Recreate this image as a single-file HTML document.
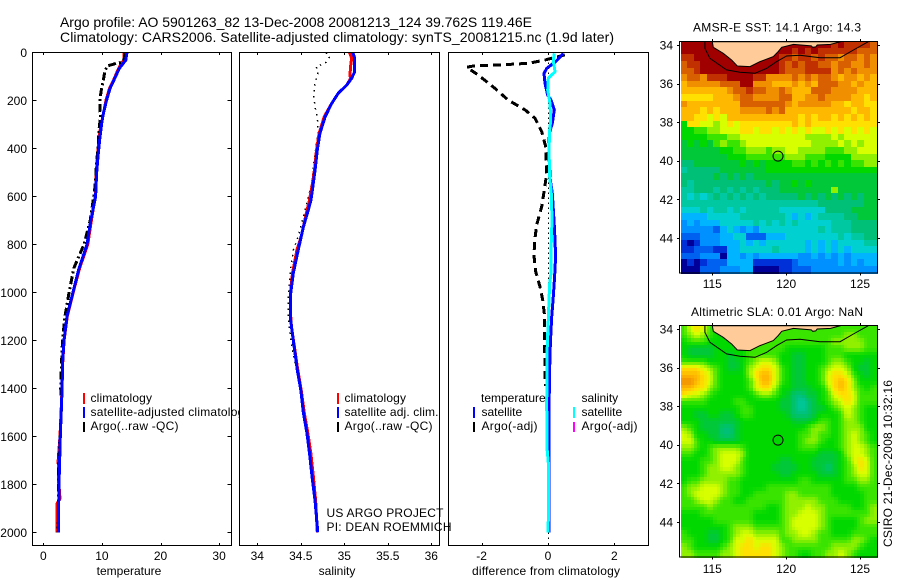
<!DOCTYPE html>
<html lang="en">
<head>
<meta charset="utf-8">
<title>Argo profile 5901263_82</title>
<style>
html,body{margin:0;padding:0;background:#fff;}
svg{display:block;}
text{font-family:"Liberation Sans",Arial,sans-serif;font-size:12px;fill:#000;}
</style>
</head>
<body>
<svg id="fig" xmlns="http://www.w3.org/2000/svg" width="900" height="580" viewBox="0 0 900 580">
<rect x="0" y="0" width="900" height="580" fill="#fff"/>
<text x="60" y="27" style="font-size:14px" textLength="472">Argo profile: AO 5901263_82 13-Dec-2008 20081213_124 39.762S 119.46E</text>
<text x="60" y="42" style="font-size:14px" textLength="554">Climatology: CARS2006. Satellite-adjusted climatology: synTS_20081215.nc (1.9d later)</text>

<g id="panel1">
  <rect x="32.5" y="52.5" width="199" height="493" fill="#fff"/>
  <g id="p1marks"></g>
  <g>
    <rect x="83" y="393" width="2" height="11" fill="#ff0000"/>
    <rect x="83" y="407" width="2" height="11" fill="#0000ff"/>
    <rect x="83" y="422" width="2" height="10" fill="#000"/>
    <text x="90.5" y="402" textLength="61.5">climatology</text>
    <text x="90.5" y="416" textLength="160">satellite-adjusted climatology</text>
    <text x="90.5" y="430" textLength="88">Argo(..raw -QC)</text>
  </g>
  <text x="129" y="575" text-anchor="middle">temperature</text>
</g>

<g id="panel2">
  <rect x="239.5" y="52.5" width="200" height="493" fill="#fff"/>
  <g id="p2marks"></g>
  <g>
    <rect x="337" y="393" width="2" height="11" fill="#ff0000"/>
    <rect x="337" y="407" width="2" height="11" fill="#0000ff"/>
    <rect x="337" y="422" width="2" height="10" fill="#000"/>
    <text x="344.5" y="402" textLength="61.5">climatology</text>
    <text x="344.5" y="416" textLength="94">satellite adj. clim.</text>
    <text x="344.5" y="430" textLength="88">Argo(..raw -QC)</text>
  </g>
  <text x="337" y="575" text-anchor="middle">salinity</text>
</g>

<g id="panel3">
  <rect x="448.5" y="52.5" width="200" height="493" fill="#fff"/>
  <g id="p3marks"></g>
  <g>
    <text x="481" y="402">temperature</text>
    <rect x="473" y="407" width="2" height="11" fill="#0000ff"/>
    <rect x="473" y="422" width="2" height="10" fill="#000"/>
    <text x="481.5" y="416">satellite</text>
    <text x="481.5" y="430" textLength="56">Argo(-adj)</text>
    <text x="581.5" y="402">salinity</text>
    <rect x="573" y="407" width="2" height="11" fill="#00ffff"/>
    <rect x="573" y="422" width="2" height="10" fill="#ff00ff"/>
    <text x="581.5" y="416">satellite</text>
    <text x="581.5" y="430" textLength="56">Argo(-adj)</text>
  </g>
  <text x="546" y="575" text-anchor="middle" textLength="148">difference from climatology</text>
</g>

<text x="326.5" y="517" textLength="117">US ARGO PROJECT</text>
<text x="326.5" y="531" textLength="125">PI: DEAN ROEMMICH</text>

<g id="map1"></g>
<text x="777" y="31.5" text-anchor="middle" textLength="168">AMSR-E SST: 14.1 Argo: 14.3</text>
<g id="map2"></g>
<text x="777" y="316" text-anchor="middle" textLength="172">Altimetric SLA: 0.01 Argo: NaN</text>
<text transform="translate(892,547) rotate(-90)" textLength="167">CSIRO 21-Dec-2008 10:32:16</text>
</svg>

<script>
/* ---------- profile data ---------- */
const tempXTicks = [0, 10, 20, 30];
const salXTicks = [34, 34.5, 35, 35.5, 36];
const diffXTicks = [-2, 0, 2];
const depthTicks = [0, 200, 400, 600, 800, 1000, 1200, 1400, 1600, 1800, 2000];

const tempClimDepth = [0, 30, 50, 70, 110, 150, 200, 250, 300, 350, 420, 500, 600, 700, 800, 900, 1000, 1100, 1200, 1300, 1400, 1600, 1700, 1780, 1860, 1880, 2000];
const tempClim = [13.8, 13.8, 13.2, 12.8, 12.1, 11.3, 10.7, 10.3, 9.9, 9.5, 9.3, 9.05, 8.85, 8.2, 7.6, 6.2, 5.1, 4.1, 3.55, 3.3, 3.2, 2.85, 2.55, 2.6, 2.85, 2.35, 2.35];
const tempSatDepth = [0, 11, 32, 46, 67, 108, 150, 199, 254, 296, 352, 421, 504, 602, 700, 800, 900, 1000, 1100, 1200, 1300, 1400, 1600, 1800, 2000];
const tempSat = [14.3, 14.2, 14.1, 13.65, 12.97, 12.2, 11.4, 10.8, 10.25, 9.96, 9.67, 9.39, 9.1, 8.93, 8.1, 7.45, 6.1, 5.07, 4.05, 3.53, 3.28, 3.2, 2.9, 2.68, 2.56];
const tempArgoDepth = [4, 32, 42, 46, 57, 81, 115, 164, 199, 247, 261, 310, 378, 462, 560, 602, 700, 800, 900, 1000, 1100, 1200, 1300, 1400, 1470, 1740, 1800, 2000];
const tempArgo = [13.94, 13.77, 13.4, 12.5, 10.9, 10.5, 10.25, 9.85, 9.67, 9.67, 9.8, 9.56, 9.39, 9.1, 8.82, 8.6, 8.0, 6.95, 5.2, 4.4, 3.7, 3.28, 3.1, 2.97, 3.14, 2.56, 2.6, 2.55];

const salClimDepth = [0, 25, 50, 90, 110, 136, 171, 213, 268, 338, 407, 483, 546, 615, 685, 768, 824, 920, 1004, 1115, 1150, 1324, 1407, 1503, 1586, 1670, 1770, 1866, 2000];
const salClim = [35.06, 35.085, 35.075, 35.065, 35.07, 35.03, 34.93, 34.855, 34.77, 34.71, 34.68, 34.66, 34.635, 34.6, 34.555, 34.505, 34.455, 34.405, 34.38, 34.385, 34.395, 34.465, 34.505, 34.54, 34.58, 34.615, 34.645, 34.67, 34.69];
const salSatDepth = [2, 25, 81, 108, 136, 171, 213, 268, 338, 407, 483, 546, 615, 657, 727, 824, 920, 1004, 1115, 1150, 1324, 1407, 1503, 1586, 1670, 1770, 1866, 2000];
const salSat = [35.10, 35.12, 35.12, 35.085, 35.03, 34.93, 34.855, 34.78, 34.72, 34.69, 34.667, 34.644, 34.617, 34.586, 34.53, 34.47, 34.414, 34.384, 34.384, 34.395, 34.46, 34.5, 34.53, 34.57, 34.6, 34.63, 34.663, 34.695];
const salArgoDepth = [2, 18, 46, 60, 81, 129, 185, 227, 268, 338, 393, 463, 546, 602, 685, 768, 824, 925, 1018, 1102, 1200, 1400];
const salArgo = [34.79, 34.836, 34.78, 34.675, 34.70, 34.663, 34.65, 34.663, 34.69, 34.70, 34.675, 34.65, 34.625, 34.586, 34.53, 34.47, 34.414, 34.376, 34.356, 34.356, 34.385, 34.49];

const diffArgoDepth = [11, 32, 46, 53, 57, 62, 95, 150, 199, 240, 275, 331, 393, 504, 574, 643, 719, 795, 852, 914, 977, 1032, 1088, 1145, 1253, 1390];
const diffTempArgo = [0.51, -0.09, -0.59, -1.5, -2.25, -2.45, -2.1, -1.6, -1.2, -0.69, -0.39, -0.19, -0.07, -0.04, -0.11, -0.19, -0.34, -0.41, -0.42, -0.37, -0.24, -0.16, -0.11, -0.11, -0.1, -0.08];
const diffSatDepth = [4, 35, 67, 88, 129, 178, 199, 240, 296, 338, 435, 532, 588, 699, 782, 852, 935, 1018, 1102, 1185, 1253, 1393, 1601, 1782, 2000];
const diffTempSat = [0.46, 0.26, -0.04, -0.12, -0.09, -0.01, 0.09, 0.19, 0.13, 0.04, 0.03, 0.07, 0.13, 0.18, 0.21, 0.23, 0.2, 0.16, 0.11, 0.08, 0.06, 0.04, 0.03, 0.03, 0.03];
const diffSalDepth = [4, 35, 81, 108, 157, 213, 282, 324, 407, 518, 588, 699, 824, 920, 963, 1032, 1115, 1212, 1460, 1648, 1710, 1877, 2000];
const diffSalSat = [0.19, 0.16, 0.21, 0.01, -0.01, 0.06, 0.08, 0.05, 0.03, 0.05, 0.1, 0.12, 0.09, 0.09, 0.05, 0.03, 0.01, -0.02, -0.04, -0.03, 0.01, 0.02, 0.0];

/* ---------- map data ---------- */
const lonTicks = [115, 120, 125];
const latTicks = [34, 36, 38, 40, 42, 44];
const coastLon = [115, 115.07, 115.74, 116.31, 116.69, 117.55, 118.23, 119.13, 119.47, 119.7, 120.5, 121.7, 121.8, 122, 122.1, 123, 123.7];
const coastLat = [33.83, 34.12, 34.43, 34.78, 35.09, 35.12, 34.86, 34.6, 34.34, 34.12, 33.97, 34.05, 34.12, 34.1, 34.0, 33.97, 33.83];
const shelfLon = [114.5, 114.5, 114.84, 115.97, 116.87, 117.89, 118.68, 119.36, 120.03, 120.94, 122.29, 123.65, 124.55, 125.56];
const shelfLat = [33.83, 34.17, 34.69, 35.29, 35.41, 35.47, 35.21, 34.86, 34.57, 34.53, 34.66, 34.66, 34.26, 33.83];
const floatLon = 119.45;
const floatLat = 39.76;

const sstLevels = [
[18,18,18,18,18,18,18,18,18,18,18,18,18,18,18,18,18,18,18,18,18,18,18,17,18,17,17,17,17,16],
[18,18,18,18,18,18,18,18,18,18,18,18,18,18,18,18,18,17,18,17,18,17,17,17,17,17,17,16,16,16],
[17,17,18,18,18,18,18,18,18,18,18,18,18,18,18,17,17,16,17,17,16,17,16,16,15,16,16,15,16,15],
[16,17,17,18,18,18,18,18,18,18,18,18,18,18,18,17,16,17,16,17,17,16,16,15,16,16,15,15,16,15],
[16,16,17,18,18,18,18,18,18,18,18,18,18,18,18,17,16,16,16,17,17,17,17,15,16,15,16,15,15,15],
[15,16,16,15,17,17,17,18,18,18,18,17,17,15,15,15,15,16,15,16,15,16,16,15,14,15,15,14,15,14],
[14,15,15,15,15,15,16,16,16,18,18,15,15,15,14,14,14,15,14,15,14,16,16,16,15,15,14,15,14,14],
[14,14,14,14,14,14,14,15,16,16,17,16,16,15,15,16,15,14,14,14,16,16,16,15,15,15,15,14,14,14],
[13,13,13,13,13,14,14,14,15,16,16,15,15,15,15,16,16,14,14,15,15,16,15,15,15,15,14,14,13,14],
[15,14,14,14,14,14,14,14,14,16,16,16,16,16,16,16,15,14,15,15,15,15,15,14,14,13,14,14,13,13],
[14,14,14,13,14,13,14,14,14,15,15,15,15,16,15,16,14,14,14,14,14,14,14,14,14,14,13,14,14,13],
[14,14,13,13,12,13,12,14,14,14,14,14,14,14,14,14,14,14,13,14,13,14,14,13,14,13,14,13,14,13],
[9,13,13,12,12,11,12,13,12,13,13,13,13,13,13,13,13,14,13,14,13,13,13,13,13,13,13,13,13,13],
[9,9,10,10,11,11,12,12,12,13,13,12,13,13,12,13,12,13,12,13,12,12,13,12,13,12,13,12,13,12],
[9,9,9,9,10,10,10,11,11,12,12,12,12,12,12,12,12,12,12,11,11,11,11,12,11,12,12,12,12,12],
[8,9,8,9,8,10,11,10,10,11,12,12,12,12,12,12,12,12,12,12,11,11,11,11,12,11,12,11,12,12],
[8,8,8,8,8,8,9,9,10,10,11,11,11,10,11,11,12,12,11,11,11,11,10,10,10,11,11,12,12,12],
[8,8,8,8,8,8,8,9,9,9,10,10,10,10,10,10,11,11,11,10,10,10,9,9,9,9,11,11,11,11],
[7,7,8,8,8,8,8,8,8,9,8,9,8,9,9,9,9,10,10,9,10,9,10,9,10,9,10,10,11,11],
[6,7,7,7,7,7,8,8,8,8,8,8,8,9,9,9,9,9,9,9,9,9,9,9,9,9,9,9,9,9],
[7,7,7,7,7,8,7,8,7,8,7,8,8,8,8,8,8,8,8,8,8,8,8,8,8,8,8,8,8,8],
[7,6,7,7,7,7,7,7,7,7,7,7,7,8,7,8,8,9,8,9,8,8,8,8,8,8,8,8,8,8],
[6,6,7,7,7,6,7,6,7,6,7,6,7,7,7,8,8,8,8,8,8,8,8,11,8,8,8,8,8,8],
[6,5,6,5,6,7,6,7,6,7,6,7,6,7,7,7,7,7,8,7,8,7,8,7,8,7,8,7,8,8],
[6,6,6,6,6,6,6,6,6,6,6,6,6,6,6,6,6,6,6,6,6,7,7,7,7,7,7,7,8,8],
[5,5,5,6,5,6,6,5,6,5,6,6,6,6,6,5,5,5,5,5,5,5,7,7,7,7,8,8,8,8],
[4,4,4,4,5,5,5,5,5,6,6,6,6,6,6,6,5,4,5,4,5,6,6,6,6,7,7,8,8,8],
[3,4,3,4,4,4,5,5,5,5,5,6,5,6,5,6,5,6,5,5,5,5,5,6,6,6,7,7,7,7],
[3,3,3,3,3,2,4,5,4,3,4,3,5,5,5,5,5,5,5,5,5,6,5,6,6,6,7,7,7,7],
[2,2,2,3,3,3,4,4,5,5,2,2,2,4,4,4,5,5,5,5,5,5,5,5,6,5,6,6,7,7],
[1,0,1,3,3,3,4,4,4,5,4,5,4,5,5,5,5,5,5,4,5,4,5,4,5,5,5,5,6,6],
[1,1,2,2,2,1,1,4,4,5,5,5,5,5,6,5,5,5,5,4,5,4,5,4,5,4,5,5,5,5],
[2,2,2,3,3,3,0,4,4,3,4,3,4,4,4,4,4,4,3,3,4,3,4,3,4,3,4,4,4,4],
[0,1,0,1,2,2,2,4,4,4,4,1,1,1,1,1,1,2,3,3,3,3,3,3,4,3,4,3,4,4],
[0,0,0,2,2,2,3,3,3,4,4,0,0,0,0,1,1,2,2,2,3,3,3,3,3,3,3,3,3,3]
];

const slaLevels = [
[10,12,13,12,10,9,9,10,10,10,10,10,10,10,10,10,10,10,10,10,10,10,10,10,10,10,10,10,10,10],
[10,11,12,11,10,9,9,10,10,10,10,10,10,10,10,10,10,10,10,10,10,10,10,10,10,11,11,10,10,10],
[9,10,10,10,9,9,9,9,10,10,10,10,10,10,10,10,10,10,10,10,10,10,10,11,11,11,11,11,10,10],
[9,8,8,8,8,9,9,9,9,9,10,10,10,10,10,10,9,9,9,9,9,9,10,10,10,11,11,11,10,10],
[9,8,8,8,8,9,9,8,9,9,10,10,10,10,10,9,9,8,8,9,9,9,10,10,10,9,9,9,9,9],
[10,10,10,10,9,9,9,8,8,9,10,11,12,12,11,9,9,8,8,9,9,9,10,11,11,10,9,9,8,9],
[13,13,13,12,11,10,9,8,8,9,11,12,13,13,12,10,9,8,8,9,9,10,11,12,12,11,9,8,8,9],
[14,14,14,13,12,10,9,9,9,9,11,13,14,14,12,10,9,8,8,9,9,10,12,13,13,12,10,9,8,9],
[15,15,14,13,12,10,9,9,9,9,10,12,14,14,12,10,9,8,8,9,9,10,12,13,14,13,11,9,9,9],
[14,14,13,13,11,10,9,9,9,9,10,12,13,13,11,9,9,8,8,8,9,9,11,13,14,13,11,10,9,10],
[13,12,12,11,10,9,9,9,9,9,9,10,11,11,10,9,8,7,7,8,8,9,10,12,13,13,12,10,10,10],
[10,10,10,10,9,9,9,9,10,10,9,9,9,9,9,8,8,7,6,7,8,9,10,11,12,13,12,10,10,10],
[9,9,9,9,9,9,9,9,9,10,10,9,9,9,9,8,8,7,6,7,8,8,9,10,11,12,11,10,9,9],
[9,9,8,8,9,9,8,8,9,10,10,9,9,9,9,9,8,7,7,7,8,9,9,9,10,12,11,10,9,9],
[9,9,9,8,8,8,8,8,8,9,9,9,9,9,9,9,9,8,8,8,9,10,10,9,10,11,11,10,9,9],
[11,10,9,8,8,8,7,7,8,9,9,9,9,9,9,9,9,9,9,10,11,11,10,9,10,11,11,11,9,9],
[12,11,9,9,8,8,7,7,8,9,9,9,9,9,9,9,9,9,10,10,11,10,10,9,10,11,12,11,10,9],
[12,12,10,9,9,8,8,8,8,9,9,9,9,9,9,9,9,9,10,11,11,10,9,9,10,11,12,11,10,9],
[11,11,10,9,10,11,11,11,11,10,9,9,9,9,9,9,9,9,10,10,10,9,9,9,10,11,12,12,11,10],
[10,10,9,9,10,11,12,12,12,11,9,9,9,9,9,9,9,9,9,9,9,8,8,8,9,11,12,12,11,10],
[9,9,9,10,10,11,12,12,12,10,9,9,9,9,9,8,8,9,9,9,8,8,8,8,9,10,12,13,12,10],
[9,9,9,10,11,11,12,12,11,10,9,9,9,9,8,8,8,8,9,9,8,8,7,8,9,10,11,13,12,10],
[9,9,9,10,11,11,11,11,11,10,9,9,9,9,9,8,8,9,9,9,9,8,8,8,9,10,11,12,12,10],
[9,10,10,11,11,11,11,10,10,9,9,9,9,9,9,9,9,9,10,10,9,9,9,9,9,10,10,11,11,10],
[10,11,11,12,12,12,11,10,10,9,9,9,9,10,10,10,10,10,10,10,10,10,10,9,9,9,9,10,10,10],
[10,11,12,12,12,12,11,10,10,9,9,10,10,10,10,10,11,11,10,10,10,10,10,9,9,9,9,9,10,10],
[10,10,11,12,12,11,10,10,9,9,10,10,10,10,10,10,11,11,11,11,11,10,10,10,9,9,9,9,10,10],
[10,10,10,10,11,10,10,10,10,10,10,10,10,9,9,10,11,11,11,12,11,11,10,10,10,10,9,9,10,11],
[9,9,9,10,10,10,10,10,10,10,10,9,9,9,9,10,11,11,12,12,12,11,10,10,10,10,10,10,10,11],
[9,9,9,9,9,10,10,10,10,10,10,9,9,9,9,10,11,12,12,12,12,11,10,9,9,9,9,10,11,11],
[9,9,9,9,9,9,9,10,11,11,11,10,10,10,10,10,11,12,12,12,12,11,10,9,9,9,9,10,10,10],
[10,9,9,9,8,8,9,10,11,12,12,11,11,11,11,10,11,11,12,12,11,10,10,9,9,9,10,10,10,10],
[10,10,9,9,8,8,9,10,12,12,13,12,12,12,12,10,10,11,11,11,11,10,10,10,10,10,11,11,10,9],
[11,10,9,9,9,9,10,11,12,13,13,12,13,13,12,11,10,10,10,10,10,10,10,11,11,11,11,10,9,9],
[11,11,10,10,10,10,11,11,12,13,13,13,13,13,12,11,10,10,9,9,10,10,11,11,12,11,10,9,9,9]
];

/* ---------- styling and drawing ---------- */
const colormap = ['#000098','#0030d8','#0060f0','#0090ff','#00b4ff','#00d0d0','#00c8a0','#00c078','#00c838','#00d800','#38e400','#90f000','#d8ff00','#ffe000','#ffb800','#f09000','#d86000','#c03000','#a00000'];
const NS = 'http://www.w3.org/2000/svg';

function el(parent, tag, attrs, txt) {
  const e = document.createElementNS(NS, tag);
  for (const k in attrs) e.setAttribute(k, attrs[k]);
  if (txt !== undefined) e.textContent = txt;
  parent.appendChild(e);
  return e;
}

function colorOf(v) {
  const c = Math.max(0, Math.min(colormap.length - 1, v));
  const lo = Math.floor(c), hi = Math.ceil(c), f = c - lo;
  const a = parseInt(colormap[lo].slice(1), 16), b = parseInt(colormap[hi].slice(1), 16);
  const mix = s => Math.round(((a >> s) & 255) * (1 - f) + ((b >> s) & 255) * f);
  return 'rgb(' + mix(16) + ',' + mix(8) + ',' + mix(0) + ')';
}

const depthY = d => 52.3 + d * 0.24;
const tempX = v => 43.3 + v * 5.86;
const salX = v => 257.3 + (v - 34) * 87;
const diffX = v => 548 + v * 33.2;

function seriesPath(parent, name, depths, values, xf, color, width, dash) {
  const pts = depths.map((d, i) => xf(values[i]).toFixed(1) + ',' + depthY(d).toFixed(1)).join(' ');
  const line = el(parent, 'polyline', {points: pts, fill: 'none', stroke: color, 'stroke-width': width, 'shape-rendering': 'crispEdges', 'stroke-linejoin': 'round'});
  
  
  if (dash) line.setAttribute('stroke-dasharray', dash);
}

function profileFrame(parent, frame, ticks, xf, labelY, panelName) {
  const box = el(parent, 'rect', {x: frame.x, y: frame.y, width: frame.w, height: frame.h, fill: 'none', stroke: '#000', 'stroke-width': 1, 'shape-rendering': 'crispEdges'});
  
  
  ticks.forEach(t => {
    const x = Math.round(xf(t)) + 0.5;
    const top = el(parent, 'line', {x1: x, x2: x, y1: frame.y, y2: frame.y + 2.5, stroke: '#000', 'shape-rendering': 'crispEdges'});
    
    
    const bot = el(parent, 'line', {x1: x, x2: x, y1: frame.y + frame.h, y2: frame.y + frame.h - 2.5, stroke: '#000', 'shape-rendering': 'crispEdges'});
    
    
    const lab = el(parent, 'text', {x: xf(t), y: labelY, 'text-anchor': 'middle'}, String(t));
    
    
  });
}

/* temperature panel */
const p1 = document.getElementById('p1marks');
seriesPath(p1, 'temperature-climatology-line', tempClimDepth, tempClim, tempX, '#ff0000', 3);
seriesPath(p1, 'temperature-argo-line', tempArgoDepth, tempArgo, tempX, '#000', 3, '8 3 2 3');
seriesPath(p1, 'temperature-satellite-line', tempSatDepth, tempSat, tempX, '#0000ff', 3);
profileFrame(p1, {x: 32.5, y: 52.5, w: 199, h: 493}, tempXTicks, tempX, 560, 'temperature');
depthTicks.forEach(d => {
  const y = Math.round(depthY(d)) + 0.5;
  const l = el(p1, 'line', {x1: 32.5, x2: 36.5, y1: y, y2: y, stroke: '#000', 'shape-rendering': 'crispEdges'});
  
  
  const r = el(p1, 'line', {x1: 231.5, x2: 227.5, y1: y, y2: y, stroke: '#000', 'shape-rendering': 'crispEdges'});
  
  
  const t = el(p1, 'text', {x: 27, y: depthY(d) + 4.5, 'text-anchor': 'end'}, String(d));
  
  
});

/* salinity panel */
const p2 = document.getElementById('p2marks');
seriesPath(p2, 'salinity-argo-line', salArgoDepth, salArgo, salX, '#000', 1.5, '1.5 4.5');
seriesPath(p2, 'salinity-climatology-line', salClimDepth, salClim, salX, '#ff0000', 3);
seriesPath(p2, 'salinity-satellite-line', salSatDepth, salSat, salX, '#0000ff', 3);
profileFrame(p2, {x: 239.5, y: 52.5, w: 200, h: 493}, salXTicks, salX, 560, 'salinity');

/* difference panel */
const p3 = document.getElementById('p3marks');
const zeroLine = el(p3, 'line', {x1: diffX(0) + 0.5, x2: diffX(0) + 0.5, y1: depthY(0), y2: depthY(2030), stroke: '#000', 'stroke-width': 1.2, 'stroke-dasharray': '1.5 3.5', 'shape-rendering': 'crispEdges'});


seriesPath(p3, 'difference-temperature-argo-line', diffArgoDepth, diffTempArgo, diffX, '#000', 3, '8 5');
seriesPath(p3, 'difference-temperature-satellite-line', diffSatDepth, diffTempSat, diffX, '#0000ff', 3);
seriesPath(p3, 'difference-salinity-satellite-line', diffSalDepth, diffSalSat, diffX, '#00ffff', 3);
profileFrame(p3, {x: 448.5, y: 52.5, w: 200, h: 493}, diffXTicks, diffX, 560, 'difference');

/* maps: sub > 1 blends neighbouring grid values when painting, for fields that are smooth */
function sampleGrid(grid, r, c) {
  const nR = grid.length, nC = grid[0].length;
  const rr = Math.max(0, Math.min(nR - 1, r)), cc = Math.max(0, Math.min(nC - 1, c));
  const r0 = Math.floor(rr), c0 = Math.floor(cc);
  const r1 = Math.min(nR - 1, r0 + 1), c1 = Math.min(nC - 1, c0 + 1);
  const fr = rr - r0, fc = cc - c0;
  return (grid[r0][c0] * (1 - fc) + grid[r0][c1] * fc) * (1 - fr) + (grid[r1][c0] * (1 - fc) + grid[r1][c1] * fc) * fr;
}

function drawMap(gid, prefix, grid, top, labelY, sub) {
  const g = document.getElementById(gid);
  const left = 679.3, right = 877.3, height = 231.5;
  const lonX = lon => 712.3 + (lon - 115) * 14.77;
  const latY = lat => top + (lat - 33.83) * height / 12;
  const lonStart = 112.9, lonEnd = 126.17, latStart = 33.83, latEnd = 45.83;
  const nRows = grid.length * sub, nCols = grid[0].length * sub;
  const cellW = (lonEnd - lonStart) / nCols, cellH = (latEnd - latStart) / nRows;
  for (let r = 0; r < nRows; r++) {
    for (let c = 0; c < nCols; c++) {
      const v = sub > 1 ? sampleGrid(grid, (r + 0.5) / sub - 0.5, (c + 0.5) / sub - 0.5) : grid[r][c];
      const x0 = Math.floor(lonX(lonStart + c * cellW)), x1 = Math.ceil(lonX(lonStart + (c + 1) * cellW));
      const y0 = Math.floor(latY(latStart + r * cellH)), y1 = Math.ceil(latY(latStart + (r + 1) * cellH));
      const cell = el(g, 'rect', {x: x0, y: y0, width: x1 - x0, height: y1 - y0, fill: colorOf(v), 'shape-rendering': 'crispEdges'});
      
      
    }
  }
  const landPts = coastLon.map((lon, i) => lonX(lon).toFixed(1) + ',' + latY(coastLat[i]).toFixed(1)).join(' ');
  const land = el(g, 'polygon', {points: landPts, fill: '#ffcc99', stroke: '#000', 'stroke-width': 1});
  
  
  const shelfPts = shelfLon.map((lon, i) => lonX(lon).toFixed(1) + ',' + latY(shelfLat[i]).toFixed(1)).join(' ');
  const shelf = el(g, 'polyline', {points: shelfPts, fill: 'none', stroke: '#000', 'stroke-width': 1});
  
  
  const mark = el(g, 'circle', {cx: lonX(floatLon), cy: latY(floatLat), r: 5, fill: 'none', stroke: '#000', 'stroke-width': 1});
  
  
  const frame = el(g, 'rect', {x: left, y: top, width: right - left, height: height, fill: 'none', stroke: '#000', 'stroke-width': 1, 'shape-rendering': 'crispEdges'});
  
  
  lonTicks.forEach(lon => {
    const x = Math.round(lonX(lon)) + 0.5;
    const a = el(g, 'line', {x1: x, x2: x, y1: top - 2.5, y2: top, stroke: '#000', 'shape-rendering': 'crispEdges'});
    
    
    const b = el(g, 'line', {x1: x, x2: x, y1: top + height, y2: top + height + 2.5, stroke: '#000', 'shape-rendering': 'crispEdges'});
    
    
    const t = el(g, 'text', {x: lonX(lon), y: labelY, 'text-anchor': 'middle'}, String(lon));
    
    
  });
  latTicks.forEach(lat => {
    const y = Math.round(latY(lat)) + 0.5;
    const a = el(g, 'line', {x1: left - 2.5, x2: left, y1: y, y2: y, stroke: '#000', 'shape-rendering': 'crispEdges'});
    
    
    const b = el(g, 'line', {x1: right, x2: right + 2.5, y1: y, y2: y, stroke: '#000', 'shape-rendering': 'crispEdges'});
    
    
    const t = el(g, 'text', {x: 673, y: latY(lat) + 4.5, 'text-anchor': 'end'}, String(lat));
    
    
  });
}
drawMap('map1', 'sst-map', sstLevels, 41.7, 288, 1);
drawMap('map2', 'sla-map', slaLevels, 325.7, 573, 2);
</script>
</body>
</html>
